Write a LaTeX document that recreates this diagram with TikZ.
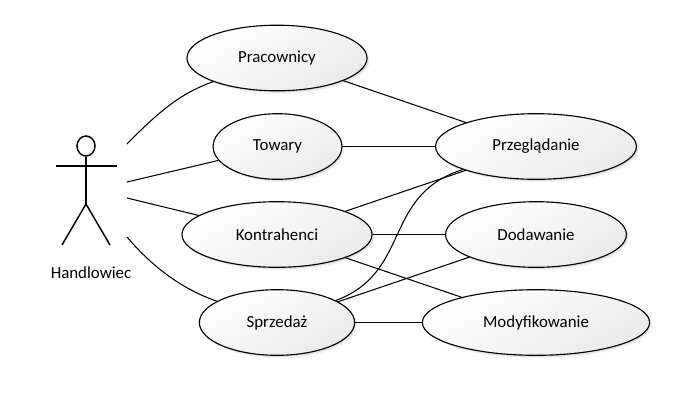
\documentclass[tikz,border=0pt]{standalone}
\usepackage{fontspec}
\setmainfont{Carlito}
\usetikzlibrary{shapes.geometric, shadows}

\begin{document}
\begin{tikzpicture}[
            x=0.025cm, y=-0.025cm,
            usecase/.style={
                ellipse, draw, line width=0.8pt, inner sep=0pt,
                minimum height=1.64cm, font=\fontsize{12}{14}\selectfont,
                top color=white, bottom color=black!8, shading angle=30,
                drop shadow={shadow xshift=1.8pt, shadow yshift=-2pt, opacity=0.05, fill=black},
                drop shadow={shadow xshift=0.9pt, shadow yshift=-1.1pt, opacity=0.08, fill=black}
            },
            link/.style={line width=0.75pt},
            limb/.style={line width=1.05pt}
        ]

            \useasboundingbox (0,0) rectangle (677,403);

            % use cases, left column
            \node[usecase, minimum width=4.5cm] (prac) at (277,58) {Pracownicy};
            \node[usecase, minimum width=3.22cm] (tow) at (277.5,146.5) {Towary};
            \node[usecase, minimum width=4.75cm] (kon) at (277,234.5) {Kontrahenci};
            \node[usecase, minimum width=3.88cm] (spr) at (277,322.5) {Sprzedaż};

            % use cases, right column
            \node[usecase, minimum width=5.02cm] (prz) at (536,146.5) {Przeglądanie};
            \node[usecase, minimum width=4.52cm] (dod) at (536,234.5) {Dodawanie};
            \node[usecase, minimum width=5.68cm] (mody) at (536,322.5) {Modyfikowanie};

            % actor
            \node[ellipse, draw, limb, inner sep=0pt, minimum width=0.45cm, minimum height=0.5cm] (head) at (86,146) {};
            \coordinate (armL) at (55.5,166);
            \coordinate (armR) at (117,166);
            \coordinate (hip) at (86,204);
            \coordinate (footL) at (62,245);
            \coordinate (footR) at (110,245);
            \draw[limb] (head) -- (hip);
            \draw[limb] (armL) -- (armR);
            \draw[limb] (footL) -- (hip) -- (footR);
            \node[font=\fontsize{12}{14}\selectfont] (actor) at (91,273) {Handlowiec};

            % free ends beside the actor
            \coordinate (a1) at (127,144);
            \coordinate (a2) at (127,182);
            \coordinate (a3) at (127,198);
            \coordinate (a4) at (127,237);

            \draw[link] (a1) .. controls (165,105) and (185,92) .. (prac);
            \draw[link] (a2) -- (tow);
            \draw[link] (a3) -- (kon);
            \draw[link] (a4) .. controls (155,270) and (185,290) .. (spr);

            \draw[link] (prac) -- (prz);
            \draw[link] (tow) -- (prz);
            \draw[link] (kon) -- (prz);
            \draw[link] (kon) -- (dod);
            \draw[link] (kon) -- (mody);
            \draw[link] (spr) .. controls (412,272) and (382,195) .. (prz);
            \draw[link] (spr) -- (dod);
            \draw[link] (spr) -- (mody);

        \end{tikzpicture}
\end{document}
